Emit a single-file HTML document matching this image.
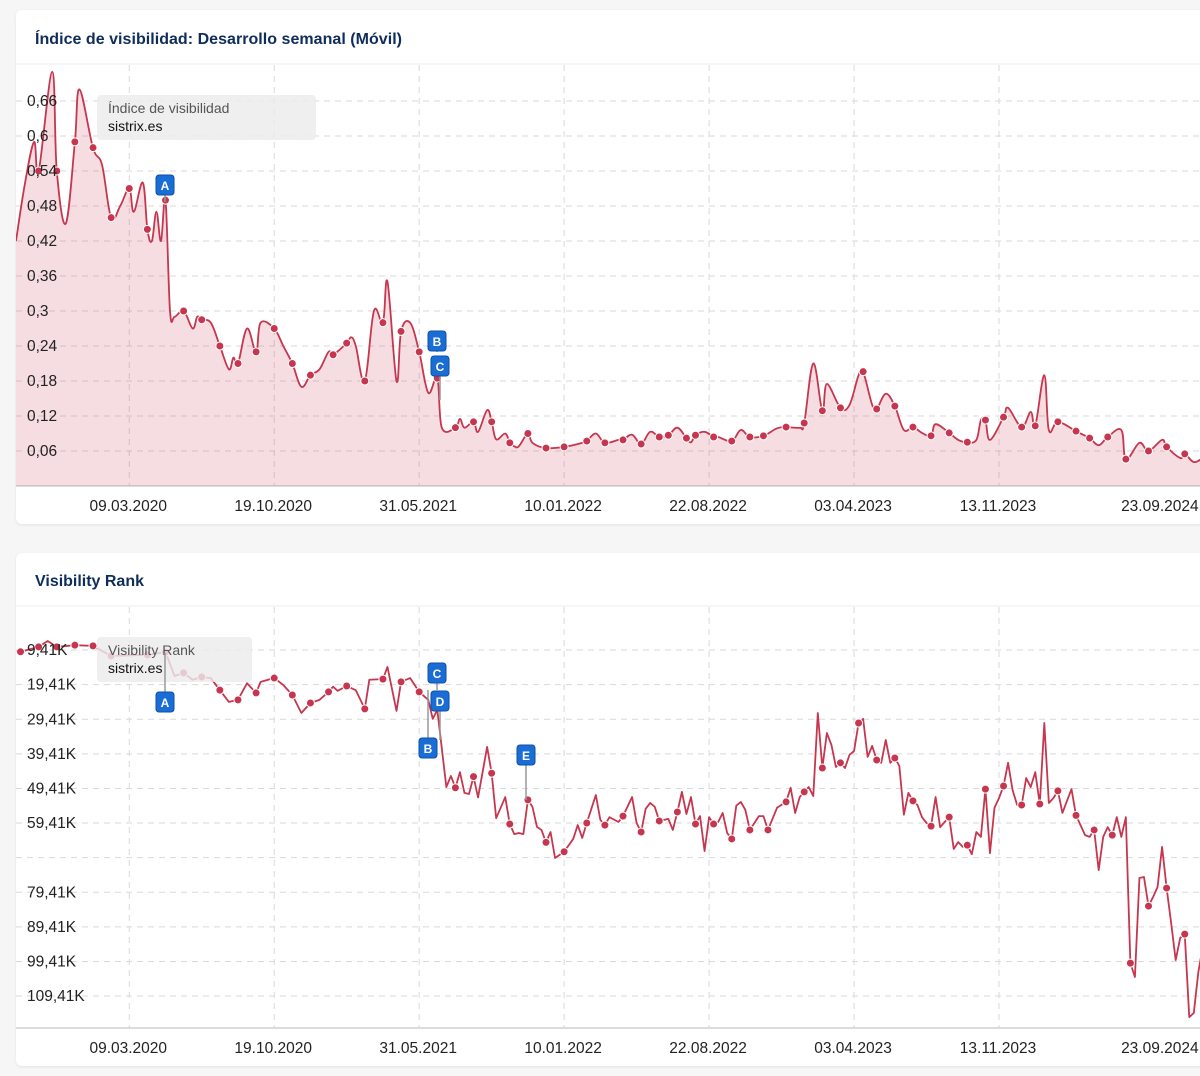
<!DOCTYPE html>
<html><head><meta charset="utf-8"><title>Sistrix charts</title>
<style>
body{margin:0;background:#f6f6f6;width:1200px;height:1076px;overflow:hidden;font-family:"Liberation Sans",sans-serif;position:relative}
.card{position:absolute;left:16px;width:1200px;background:#fff;border-radius:6px;box-shadow:0 1px 3px rgba(0,0,0,0.08)}
svg{position:absolute;left:0;top:0}
</style></head>
<body>
<div class="card" style="top:10px;height:514px"></div>
<div class="card" style="top:553px;height:513px"></div>
<svg id="s" width="1200" height="1076" xmlns="http://www.w3.org/2000/svg"></svg>
<script>
// ---- Chart 1 data: weekly visibility index ----
const weeks1=[0,2,4,5,8,9,11,13,14,17,19,21,23,25,26,28,29,30,31,32,33,34,35,37,39,40,41,43,45,47,48,49,51,53,54,57,59,61,63,65,67,69,70,73,74,75,77,79,81,82,84,85,87,89,91,93,94,97,98,99,101,102,104,105,106,108,109,110,111,113,114,117,121,125,126,128,130,133,134,136,138,140,142,144,146,148,149,150,152,154,155,158,160,162,165,168,170,173,174,176,178,179,182,184,186,187,189,190,192,194,196,198,200,202,203,206,208,210,212,213,214,215,218,219,222,224,225,227,228,230,234,237,239,241,244,245,248,250,253,254,257,258,260,262];
const vis1=[.42,.52,.59,.54,.71,.54,.45,.59,.68,.58,.55,.46,.48,.51,.47,.52,.44,.42,.47,.42,.49,.30,.29,.30,.27,.29,.285,.28,.24,.20,.22,.21,.27,.23,.28,.27,.24,.21,.17,.19,.20,.23,.225,.245,.255,.24,.18,.30,.28,.35,.18,.265,.28,.23,.16,.185,.10,.10,.115,.10,.11,.093,.13,.11,.08,.09,.074,.068,.068,.09,.074,.065,.067,.074,.077,.09,.074,.079,.079,.088,.072,.093,.084,.087,.10,.082,.075,.087,.093,.084,.084,.077,.096,.084,.086,.099,.101,.10,.108,.21,.129,.175,.134,.139,.19,.196,.139,.132,.158,.137,.096,.101,.091,.086,.106,.091,.079,.075,.079,.113,.113,.079,.118,.134,.101,.127,.103,.19,.096,.110,.094,.082,.07,.084,.096,.046,.074,.060,.079,.067,.048,.055,.041,.048];
const dots1=[0,0,0,1,0,1,0,1,0,1,0,1,0,1,0,0,1,0,0,0,1,0,0,1,0,0,1,0,1,0,0,1,0,1,0,1,0,1,0,1,0,0,1,1,0,0,1,0,1,0,0,1,0,1,0,1,0,1,0,0,1,0,0,1,0,0,1,0,0,1,0,1,1,0,1,0,1,0,1,0,1,0,1,1,0,1,0,1,0,1,0,1,0,1,1,0,1,0,1,0,1,0,1,0,0,1,0,1,0,1,0,1,0,1,0,1,0,1,0,0,1,0,1,0,1,0,1,0,0,1,1,1,0,1,0,1,0,1,0,1,0,1,0,0];
const yTicks1=[0.06,0.12,0.18,0.24,0.3,0.36,0.42,0.48,0.54,0.6,0.66];
const yTickLabels1=["0,06","0,12","0,18","0,24","0,3","0,36","0,42","0,48","0,54","0,6","0,66"];
// ---- Chart 2 data: weekly visibility rank (thousands) ----
const weeks2=[0,1,5,7,9,13,17,21,29,33,35,37,39,41,43,45,47,49,51,53,54,57,59,61,63,65,67,69,70,71,73,75,77,78,81,82,84,85,87,89,91,92,93,95,96,97,98,99,100,101,102,104,105,106,108,109,110,111,112,113,114,115,116,117,118,119,121,123,124,125,126,128,129,130,131,133,134,136,137,138,139,140,141,142,144,145,146,147,148,149,150,151,152,153,154,155,156,157,158,159,160,161,162,164,165,166,168,170,171,172,173,174,175,176,177,178,179,180,181,182,183,184,185,186,187,188,189,190,191,192,193,194,195,196,197,198,199,200,201,202,203,204,205,206,207,208,209,210,211,212,213,214,215,216,217,218,219,220,221,222,223,224,225,226,227,228,229,230,231,233,234,236,237,238,239,240,241,242,243,244,245,246,247,248,249,250,251,252,253,254,255,256,257,258,259,260,261,262];
const rank2=[9.7,9.9,8.5,6.8,8.5,8,8.2,11.1,10.8,10,16.9,16,18,17.2,17.5,21,24.4,23.8,19,21.8,18.6,17.5,19.5,22.4,27.6,24.7,23.8,21.5,20,21.2,19.8,21,26.4,18,17.8,14.3,27,18.6,17.5,21.5,23.8,29.3,26.7,49,45.8,49.2,44.7,50.7,51,46,52,37.4,45,58,51.9,59.7,62.6,62.3,62.6,52.7,54.7,60.5,61.4,65,62,69.5,67.7,64,60,63.7,59.4,51.3,58.5,60,57.7,59.1,57.4,51.9,59.4,62,55.3,53.6,54.7,58.8,58.2,61.4,56.2,50.4,56.8,51.9,59.7,57.4,67.5,57.7,59.7,59.1,56.5,62.3,64,54.4,53.3,55.6,61.4,57.4,57.4,61.4,55,53.3,49.2,56.5,51.9,50.4,49,51.6,27.6,43.5,33.4,36.8,43.2,42,43.5,39.7,38.6,30.5,29.3,40.3,37.1,41.2,42,35.4,42,40.6,42.9,57,50.7,53,54.2,57.7,59.4,60.3,51.9,60.6,59.1,57.7,66.9,64.9,66.3,65.8,68.4,62,63.4,49.6,68.1,55,52.2,48.7,42,49.9,54.2,54.2,46.4,49,44.7,53.9,30.5,53.6,52.2,50.1,56.5,49.6,57.2,62.9,63.4,61.4,73,63.4,60.6,62.9,57.7,63.4,57.7,99.9,103.9,75.3,75,83.4,80.8,77.9,66.3,78.2,88.3,99,92.6,91.5,115.5,114.3,102.5,95];
const dots2=[0,1,1,0,1,1,1,1,1,1,0,1,0,1,0,1,0,1,0,1,0,1,0,1,0,1,0,1,0,0,1,0,1,0,1,0,0,1,0,1,0,0,0,0,0,1,0,0,0,1,0,0,1,0,0,1,0,0,0,1,0,0,0,1,0,0,1,0,0,0,1,0,0,1,0,0,1,0,0,1,0,0,0,1,0,0,1,0,0,0,1,0,0,0,1,0,0,0,1,0,0,0,1,0,0,1,0,1,0,0,0,1,0,0,0,1,0,0,0,1,0,0,0,1,0,0,0,1,0,0,0,1,0,0,0,1,0,0,0,1,0,0,0,1,0,0,0,1,0,0,0,1,0,0,0,1,0,0,0,1,0,0,0,1,0,0,0,1,0,0,1,0,0,1,0,0,0,1,0,0,0,1,0,0,0,1,0,0,0,1,0,0,0,1,0,0,0,0];
const yTicks2=[9.41,19.41,29.41,39.41,49.41,59.41,69.41,79.41,89.41,99.41,109.41];
const yTickLabels2=["9,41K","19,41K","29,41K","39,41K","49,41K","59,41K","","79,41K","89,41K","99,41K","109,41K"];
const xTickWeeks=[25,57,89,121,153,185,217,262];
const xTickLabels=["09.03.2020","19.10.2020","31.05.2021","10.01.2022","22.08.2022","03.04.2023","13.11.2023","23.09.2024"];
const xGridWeeks=[25,57,89,121,153,185,217];

const NS="http://www.w3.org/2000/svg";
const svg=document.getElementById('s');
function el(tag,attrs,parent){const e=document.createElementNS(NS,tag);for(const k in attrs)e.setAttribute(k,attrs[k]);(parent||svg).appendChild(e);return e;}
const xScale=w=>16+w*4.53;
const yScale1=v=>486-v*583.3;
const yScale2=v=>617.5+v*3.46;
const RED="#c7364f";

function smoothPath(pts){
  let d=`M${pts[0][0]},${pts[0][1]}`;
  for(let i=0;i<pts.length-1;i++){
    const p0=pts[i-1]||pts[i],p1=pts[i],p2=pts[i+1],p3=pts[i+2]||p2;
    const t=0.18;
    const c1=[p1[0]+(p2[0]-p0[0])*t,p1[1]+(p2[1]-p0[1])*t];
    const c2=[p2[0]-(p3[0]-p1[0])*t,p2[1]-(p3[1]-p1[1])*t];
    d+=`C${c1[0].toFixed(1)},${c1[1].toFixed(1)} ${c2[0].toFixed(1)},${c2[1].toFixed(1)} ${p2[0].toFixed(1)},${p2[1].toFixed(1)}`;
  }
  return d;
}

function drawChart(cfg){
  const g=el('g',{});
  
  
  const t=el('text',{x:35,y:cfg.titleY,'font-size':16,'font-weight':'bold',fill:'#0f2d5a','font-family':'Liberation Sans, sans-serif'},g);
  if(cfg.titleLen)t.setAttribute('textLength',cfg.titleLen);
  t.textContent=cfg.title;
  
  
  el('line',{x1:16,x2:1200,y1:cfg.headerLine,y2:cfg.headerLine,stroke:'#ececec'},g);
  cfg.yTicks.forEach((v,i)=>{
    const y=cfg.yScale(v);
    el('line',{x1:16,x2:1200,y1:y,y2:y,stroke:'#d9d9d9','stroke-dasharray':'6,5'},g);
  });
  xGridWeeks.forEach(w=>{
    const x=xScale(w);
    el('line',{x1:x,x2:x,y1:cfg.top,y2:cfg.bottom,stroke:'#d9d9d9','stroke-dasharray':'6,5'},g);
  });
  el('line',{x1:16,x2:1200,y1:cfg.bottom,y2:cfg.bottom,stroke:'#d0d0d0','stroke-width':1.5},g);
  xTickWeeks.forEach((w,i)=>{
    const tx=el('text',{x:xScale(w)+(i===7?-43:-1),y:cfg.bottom+25,'font-size':15.5,fill:'#222','text-anchor':'middle'},g);
    tx.textContent=xTickLabels[i];
    
    
  });
  const pts=cfg.weeks.map((w,i)=>[xScale(w),cfg.yScale(cfg.vals[i])]);
  const sg=el('g',{'clip-path':`url(#${cfg.clip})`},g);
  if(cfg.smooth){
    const d=smoothPath(pts);
    const area=el('path',{d:d+`L${pts[pts.length-1][0]},${cfg.bottom}L${pts[0][0]},${cfg.bottom}Z`,fill:'rgba(199,54,79,0.17)'},sg);
    
    
    const ln=el('path',{d,fill:'none',stroke:RED,'stroke-width':1.8},sg);
    
    
  }else{
    const ln=el('polyline',{points:pts.map(p=>p.join(',')).join(' '),fill:'none',stroke:RED,'stroke-width':1.8,'stroke-linejoin':'round'},sg);
    
    
  }
  pts.forEach((p,i)=>{
    if(!cfg.dots[i])return;
    const c=el('circle',{cx:p[0],cy:p[1],r:4,fill:RED,stroke:'#fff','stroke-width':1},sg);
    
    
  });
  const lb=el('rect',{x:97,y:cfg.legY,width:cfg.legW,height:45,rx:4,fill:'rgba(236,236,236,0.82)'},g);
  
  
  const l1=el('text',{x:108,y:cfg.legY+18,'font-size':14,fill:'#555'},g);l1.textContent=cfg.legTitle;
  
  
  const l2=el('text',{x:108,y:cfg.legY+36,'font-size':14,fill:'#111'},g);l2.textContent='sistrix.es';
  
  
  cfg.yTicks.forEach((v,i)=>{
    const y=cfg.yScale(v);
    const tx=el('text',{x:27,y:y+5,'font-size':15.5,fill:'#222'},g);
    tx.textContent=cfg.yLabels[i];
    
    
  });
  cfg.notes.forEach(n=>{
    el('line',{x1:n.x,x2:n.x,y1:n.y,y2:n.to,stroke:'#999','stroke-width':1.5},g);
    const r=el('rect',{x:n.x-9,y:n.y-10,width:18,height:20,rx:3,fill:'#1a6dd4',stroke:'#0d4fa8','stroke-width':1},g);
    
    
    const tx=el('text',{x:n.x,y:n.y+5,'font-size':12,'font-weight':'bold',fill:'#fff','text-anchor':'middle'},g);
    tx.textContent=n.l;
  });
}
const defs=el('defs',{});
const c1=el('clipPath',{id:'c1'},defs);el('rect',{x:16,y:65,width:1184,height:421},c1);
const c2=el('clipPath',{id:'c2'},defs);el('rect',{x:16,y:607,width:1184,height:421},c2);

drawChart({name:'visibility-index-chart',title:'Índice de visibilidad: Desarrollo semanal (Móvil)',titleLen:367,titleY:44,headerLine:64,top:65,bottom:486,
  yScale:yScale1,yTicks:yTicks1,yLabels:yTickLabels1,weeks:weeks1,vals:vis1,dots:dots1,smooth:true,clip:'c1',
  legY:95,legW:219,legTitle:'Índice de visibilidad',
  notes:[{l:'A',x:165,y:185,to:202},{l:'B',x:437,y:341,to:352},{l:'C',x:440,y:366,to:400}]});
drawChart({name:'visibility-rank-chart',title:'Visibility Rank',titleLen:109,titleY:586,headerLine:606,top:607,bottom:1028,
  yScale:yScale2,yTicks:yTicks2,yLabels:yTickLabels2,weeks:weeks2,vals:rank2,dots:dots2,smooth:false,clip:'c2',
  legY:637,legW:155,legTitle:'Visibility Rank',
  notes:[{l:'A',x:165,y:702,to:653},{l:'C',x:437,y:673,to:690},{l:'D',x:440,y:701,to:740},{l:'B',x:428,y:748,to:690},{l:'E',x:526,y:755,to:800}]});
</script>
</body></html>
